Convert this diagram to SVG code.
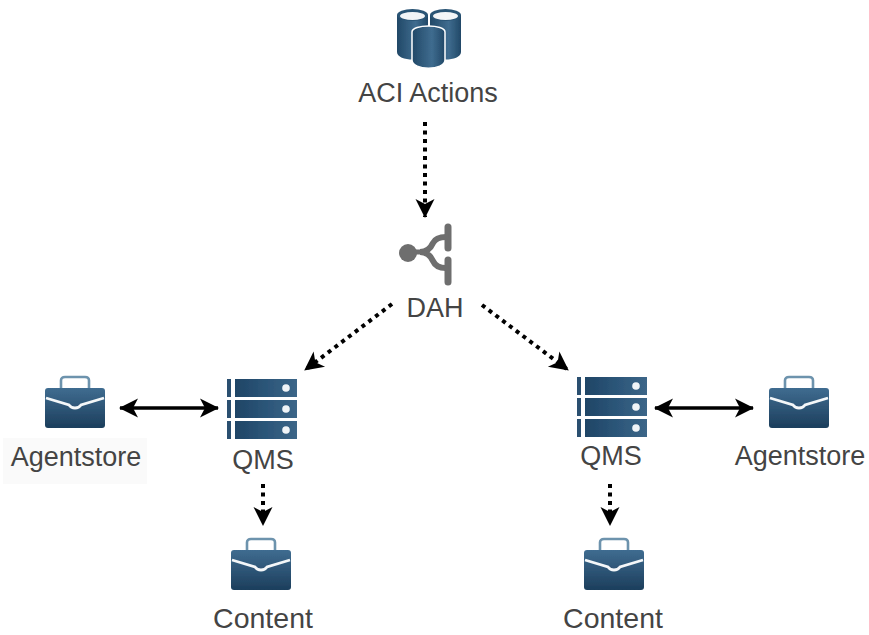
<svg xmlns="http://www.w3.org/2000/svg" width="869" height="635" viewBox="0 0 869 635">
<style>
text{font-family:"Liberation Sans",Arial,sans-serif;font-size:27px;fill:#444;text-anchor:middle}
.d{fill:none;stroke:#000;stroke-width:4;stroke-dasharray:4 4.500}
.s{fill:none;stroke:#000;stroke-width:3.500}
.b{filter:url(#b)}
</style>
<defs>
<filter id="b" x="-10%" y="-10%" width="120%" height="120%"><feGaussianBlur stdDeviation="0.600"/></filter>
<linearGradient id="g" x1="0" y1="0" x2="0" y2="1"><stop offset="0" stop-color="#3f6c90"/><stop offset="1" stop-color="#1c3e5c"/></linearGradient>
<linearGradient id="h" x1="0" y1="0" x2="1" y2="0"><stop offset="0" stop-color="#1f4566"/><stop offset="0.55" stop-color="#2d577a"/><stop offset="1" stop-color="#3c6688"/></linearGradient>
<linearGradient id="c" x1="0" y1="0" x2="1" y2="0"><stop offset="0" stop-color="#214867"/><stop offset="0.6" stop-color="#3f6c8f"/><stop offset="1" stop-color="#214867"/></linearGradient>
<marker id="a" markerUnits="userSpaceOnUse" markerWidth="22" markerHeight="22" refX="18" refY="11" orient="auto-start-reverse" viewBox="0 0 22 22"><path d="M0 1.500 L19 11 L0 20.500 L5 11Z" fill="#000"/></marker>
<g id="case">
<path d="M16 13V5.500Q16 2 20 2H40Q44 2 44 5.500V13" fill="none" stroke="#6d93ad" stroke-width="2.600"/>
<rect x="0" y="13" width="60" height="40" rx="3" fill="url(#g)"/>
<path d="M1 23L24 30Q26 33 30 33Q34 33 36 30L59 23" fill="none" stroke="#f4f7f9" stroke-width="2.800"/>
</g>
<g id="srv">
<g fill="#29506f"><rect x="1" y="0" width="4" height="18"/><rect x="1" y="21" width="4" height="18"/><rect x="1" y="42" width="4" height="18"/></g>
<g fill="url(#h)"><rect x="9" y="0" width="62" height="18"/><rect x="9" y="21" width="62" height="18"/><rect x="9" y="42" width="62" height="18"/></g>
<g fill="#f0f4f7"><circle cx="60" cy="9" r="3.800"/><circle cx="60" cy="30" r="3.800"/><circle cx="60" cy="51" r="3.800"/></g>
</g>
<g id="cyl">
<path d="M0 0V37C0 47 31 47 31 37V0Z" fill="url(#c)"/>
<ellipse cx="15.500" cy="0" rx="15.500" ry="6" fill="#2a5475"/>
<ellipse cx="15.500" cy="1" rx="12.500" ry="4" fill="#f2f5f7"/>
</g>
</defs>
<rect width="869" height="635" fill="#fff"/>
<rect x="3" y="438" width="144" height="46" fill="#fafafa"/>
<g id="connectors" class="b">
<path class="d" d="M425 122V217" marker-end="url(#a)"/>
<path class="d" d="M392 304L305 370" marker-end="url(#a)"/>
<path class="d" d="M482 305L568 370" marker-end="url(#a)"/>
<path class="s" d="M120 408H218" marker-start="url(#a)" marker-end="url(#a)"/>
<path class="s" d="M655 408H753" marker-start="url(#a)" marker-end="url(#a)"/>
<path class="d" d="M263 484V525" marker-end="url(#a)"/>
<path class="d" d="M610 484V525" marker-end="url(#a)"/>
</g>
<g id="aci"><g class="b"><use href="#cyl" x="397" y="15"/><use href="#cyl" x="430" y="15"/><path d="M412 32V60C412 71 445 71 445 60V32C445 24 412 24 412 32Z" fill="url(#c)" stroke="#fff" stroke-width="1.500"/></g><text x="428" y="102">ACI Actions</text></g>
<g id="dah">
<g class="b"><g fill="none" stroke="#6e6e6e" stroke-width="7" stroke-linecap="round"><path d="M448 227V248"/><path d="M448 260V282"/><path stroke-width="6" d="M446 237Q436 237 433 243Q429 252 420 252Q429 252 433 261Q436 268 446 268"/><path stroke-width="5" d="M412 252H424"/></g>
<circle cx="408" cy="253" r="9" fill="#6e6e6e"/></g>
<text x="435" y="317">DAH</text></g>
<g id="store-left"><use href="#case" x="45" y="375" class="b"/><text x="76" y="466">Agentstore</text></g>
<g id="qms-left"><use href="#srv" x="226" y="379" class="b"/><text x="263" y="469">QMS</text></g>
<g id="content-left"><use href="#case" x="231" y="537" class="b"/><text x="263" y="628" style="font-size:28.500px">Content</text></g>
<g id="qms-right"><use href="#srv" x="576" y="377" class="b"/><text x="611" y="465">QMS</text></g>
<g id="store-right"><use href="#case" x="769" y="375" class="b"/><text x="800" y="465">Agentstore</text></g>
<g id="content-right"><use href="#case" x="584" y="537" class="b"/><text x="613" y="628" style="font-size:28.500px">Content</text></g>
</svg>
